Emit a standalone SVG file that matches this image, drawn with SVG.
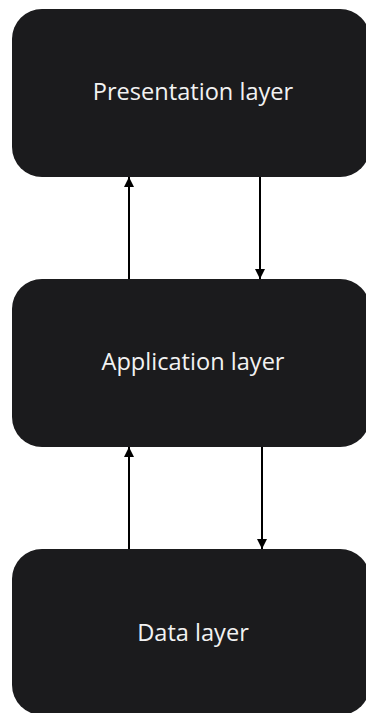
<svg xmlns="http://www.w3.org/2000/svg" width="366" height="713" viewBox="0 0 366 713">
<style>
.node rect{fill:#1b1b1d;}
.node text{fill:#f2f2f2;font-family:"Open Sans","Noto Sans",sans-serif;font-size:23.6px;text-anchor:middle;}
.conn line{stroke:#000;stroke-width:2;fill:none;marker-end:url(#ah);}
</style>
<defs>
<marker id="ah" viewBox="0 0 10 10" refX="10" refY="5" markerWidth="5" markerHeight="5" markerUnits="strokeWidth" orient="auto">
<path d="M0,0 L10,5 L0,10 z" fill="#000"/>
</marker>
</defs>
<rect width="366" height="713" fill="#fff"/>
<g id="presentation" class="node">
<rect x="12" y="9" width="358" height="168" rx="30"/>
<text x="193" y="100">Presentation layer</text>
</g>
<g id="application" class="node">
<rect x="12" y="279" width="358" height="168" rx="30"/>
<text x="193" y="370">Application layer</text>
</g>
<g id="data" class="node">
<rect x="12" y="549" width="358" height="166" rx="30"/>
<text x="193" y="641">Data layer</text>
</g>
<g id="connectors" class="conn">
<line x1="129" y1="279" x2="129" y2="177"/>
<line x1="260" y1="177" x2="260" y2="279"/>
<line x1="129" y1="549" x2="129" y2="447"/>
<line x1="262" y1="447" x2="262" y2="549"/>
</g>
</svg>
